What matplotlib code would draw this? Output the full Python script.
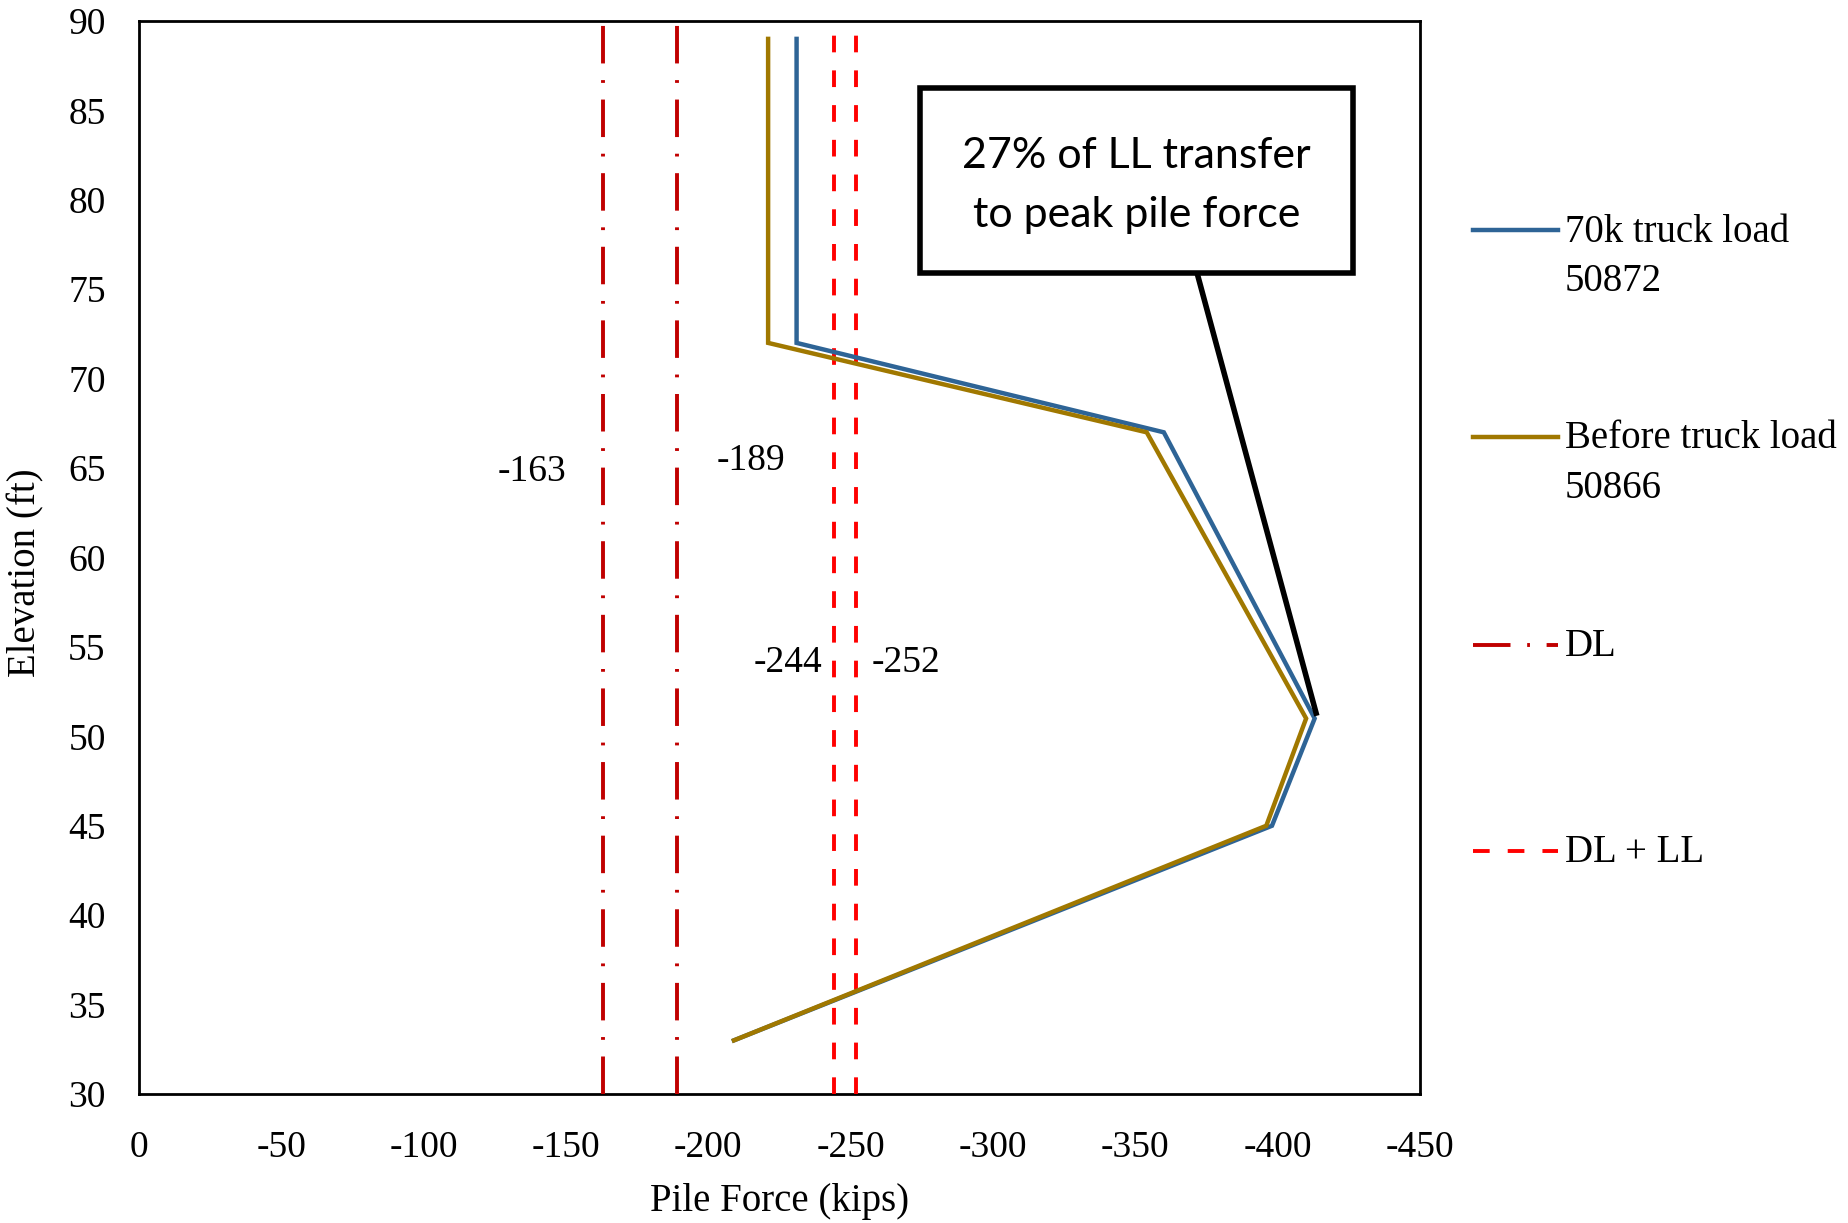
import matplotlib
matplotlib.use("Agg")
import matplotlib.pyplot as plt
from matplotlib.lines import Line2D
from matplotlib.patches import Rectangle

plt.rcParams["font.family"] = ["Liberation Serif", "DejaVu Serif"]
plt.rcParams["lines.scale_dashes"] = False

# Pile force profiles (kips) versus elevation (ft)
elev = [89, 72, 67, 51, 45, 33]
force_truck = [-231, -231, -360, -413, -398, -209]
force_before = [-221, -221, -354, -410, -396, -209]

# Reference load levels (kips)
dl_levels = [-163, -189]
dlll_levels = [-244, -252]

x_ticks = [0, -50, -100, -150, -200, -250, -300, -350, -400, -450]
y_ticks = [30, 35, 40, 45, 50, 55, 60, 65, 70, 75, 80, 85, 90]

c_truck = "#2E6496"
c_before = "#A07800"
c_dl = "#C00000"
c_dlll = "#FF0000"

dl_dash = (0, (27, 12, 2, 12))
dlll_dash = (0, (12, 13))

W, H = 1848, 1223
fig = plt.figure(figsize=(W / 100, H / 100), dpi=100)
ax = fig.add_axes([139 / W, 1 - 1094 / H, (1420 - 139) / W, (1094 - 21) / H])

ax.plot(force_truck, elev, color=c_truck, lw=3.2, solid_joinstyle="miter", zorder=4)
ax.plot(force_before, elev, color=c_before, lw=3.2, solid_joinstyle="miter", zorder=4)
for v in dl_levels:
    ax.plot([v, v], [30, 90], color=c_dl, lw=2.8, linestyle=dl_dash, zorder=3)
for v in dlll_levels:
    ax.plot([v, v], [30, 90], color=c_dlll, lw=2.8, linestyle=dlll_dash, zorder=3)

ax.set_xlim(0, -450)
ax.set_ylim(30, 90)
ax.set_xticks(x_ticks)
ax.set_xticklabels([str(v) for v in x_ticks])
ax.set_yticks(y_ticks)
ax.tick_params(axis="both", length=0, labelsize=27)
ax.tick_params(axis="x", pad=26)
ax.tick_params(axis="y", pad=24)
for s in ax.spines.values():
    s.set_linewidth(2.0)

ax.set_xlabel("Pile Force (kips)", fontsize=28)
ax.xaxis.set_label_coords(0.5, -0.083)
ax.set_ylabel("Elevation (ft)", fontsize=28)
ax.yaxis.set_label_coords(-0.074, 0.486)

# Value labels for the load levels
ax.text(-138, 64.8, "-163", fontsize=27, ha="center", va="center")
ax.text(-215, 65.4, "-189", fontsize=27, ha="center", va="center")
ax.text(-228, 54.1, "-244", fontsize=27, ha="center", va="center")
ax.text(-269.5, 54.1, "-252", fontsize=27, ha="center", va="center")

# Callout box and leader line to the peak
ax.add_patch(Rectangle((-426.3, 75.9), 151.9, 10.34, facecolor="white",
                       edgecolor="black", lw=4.0, zorder=6))
ax.text(-350.4, 80.8, "27% of LL transfer\nto peak pile force", fontsize=31,
        family=["Lato", "DejaVu Sans"], ha="center", va="center",
        linespacing=1.65, zorder=7)
ax.plot([-371.7, -413.5], [75.9, 51.3], color="black", lw=4.0, zorder=5)

# Legend at the right
entries = [
    (["70k truck load", "50872"], dict(color=c_truck, lw=3.2, linestyle="-"), 230),
    (["Before truck load", "50866"], dict(color=c_before, lw=3.2, linestyle="-"), 437),
    (["DL"], dict(color=c_dl, lw=2.8, linestyle=dl_dash), 645),
    (["DL + LL"], dict(color=c_dlll, lw=2.8, linestyle=dlll_dash), 851),
]
for lines, style, ypx in entries:
    yf = 1 - ypx / H
    fig.add_artist(Line2D([1473 / W, 1558 / W], [yf, yf],
                          transform=fig.transFigure, **style))
    for i, line in enumerate(lines):
        fig.text(1565 / W, 1 - (ypx + 2 + 49.5 * i) / H, line, fontsize=28,
                 ha="left", va="center", transform=fig.transFigure)

fig.savefig("out.png", dpi=100)
